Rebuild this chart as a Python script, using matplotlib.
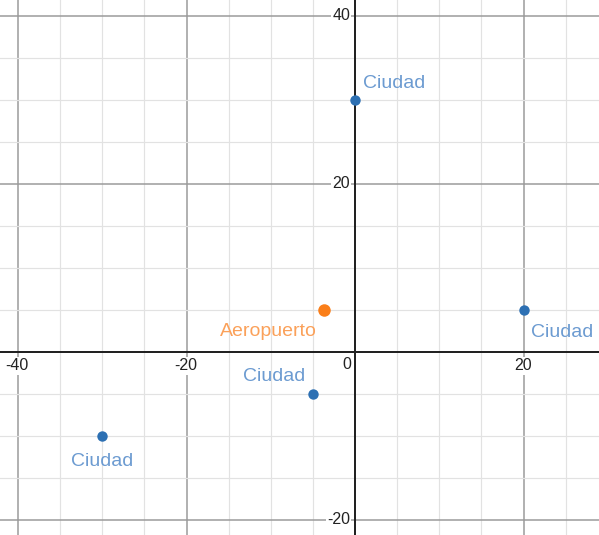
import matplotlib.pyplot as plt
import numpy as np

# puntos
ciudad_x = [0, 20, -5, -30]
ciudad_y = [30, 5, -5, -10]
aero_x = [-3.7]
aero_y = [5]

# label offsets in pixels (dx, dy, ha)
ciudad_off = [(8, 16, 'left'), (7, -23, 'left'), (-8, 17, 'right'), (0, -26, 'center')]
aero_off = (-7, -22, 'right')

xticks = [-40, -20, 0, 20]
yticks = [40, 20, -20]

plt.rcParams['font.family'] = ['Liberation Sans', 'DejaVu Sans']

fig = plt.figure(figsize=(5.99, 5.35), dpi=100)
ax = fig.add_axes([0, 0, 1, 1])
ax.set_xlim(-42.14, 28.96)
ax.set_ylim(-21.79, 41.9)
ax.set_axis_off()

px = 72 / 100.0  # pixels -> points

# grid
for v in np.arange(-40, 30, 5):
    major = v % 20 == 0
    ax.axvline(v, color='#999999' if major else '#e2e2e2', lw=1.5 * px if major else 1.2 * px, zorder=1)
for v in np.arange(-20, 45, 5):
    major = v % 20 == 0
    ax.axhline(v, color='#999999' if major else '#e2e2e2', lw=1.5 * px if major else 1.2 * px, zorder=1)

ax.axvline(0, color='#222222', lw=2 * px, zorder=2)
ax.axhline(0, color='#222222', lw=2 * px, zorder=2)

# tick labels
bb = dict(facecolor='white', edgecolor='none', pad=1)
for t in xticks:
    if t == 0:
        ax.annotate('0', (0, 0), xytext=(-8 * px, -13 * px), textcoords='offset points',
                    ha='center', va='center', fontsize=11.5, color='#222222', zorder=3)
    else:
        dx = -1 if t < 0 else 0
        ax.annotate(str(t), (t, 0), xytext=(dx * px, -14 * px),
                    textcoords='offset points', ha='center', va='center', fontsize=11.5,
                    color='#222222', bbox=bb, zorder=3)
for t in yticks:
    ax.annotate(str(t), (0, t), xytext=(-5 * px, 0), textcoords='offset points',
                ha='right', va='center', fontsize=11.5, color='#222222', bbox=bb, zorder=3)

# points
ax.plot(ciudad_x, ciudad_y, 'o', color='#2d70b3', ms=7.5, mec='none', zorder=5)
ax.plot(aero_x, aero_y, 'o', color='#fa7e19', ms=9, mec='none', zorder=5)

for x, y, (dx, dy, ha) in zip(ciudad_x, ciudad_y, ciudad_off):
    ax.annotate('Ciudad', (x, y), xytext=(dx * px, dy * px), textcoords='offset points',
                ha=ha, va='center', fontsize=14, color='#6c9bd1', zorder=6)
dx, dy, ha = aero_off
ax.annotate('Aeropuerto', (aero_x[0], aero_y[0]), xytext=(dx * px, dy * px),
            textcoords='offset points', ha=ha, va='center', fontsize=14,
            color='#fba15a', zorder=6)

fig.savefig('out.png', dpi=100)
